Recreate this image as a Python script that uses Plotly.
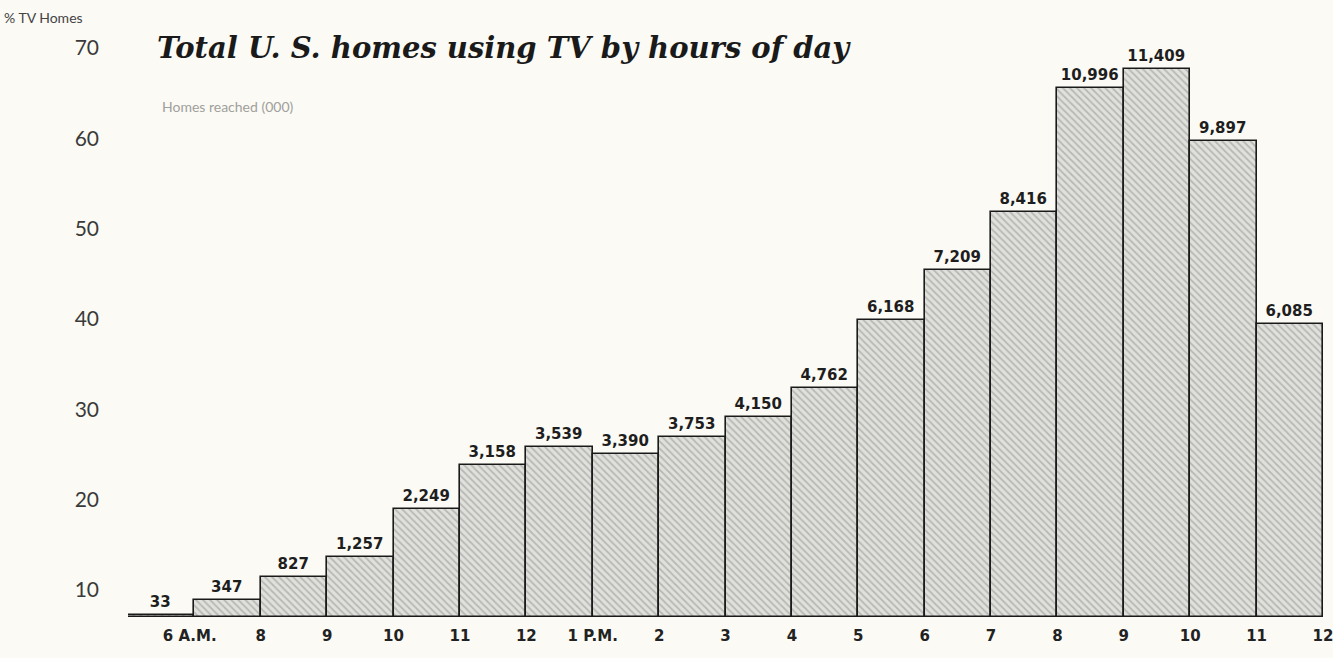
import plotly.graph_objects as go

# Hour slots from 6 A.M. to midnight, one bar per hour
hour_start = list(range(18))          # hours after 6 A.M.
homes_000 = [33, 347, 827, 1257, 2249, 3158, 3539, 3390, 3753, 4150,
             4762, 6168, 7209, 8416, 10996, 11409, 9897, 6085]
value_labels = [f"{v:,}" for v in homes_000]

# Hour labels under the bar boundaries
hour_tick_pos = [0.93, 2, 3, 4, 5, 6, 7, 8, 9, 10, 11, 12, 13, 14, 15, 16, 17, 18]
hour_tick_text = ["6 A.M.", "8", "9", "10", "11", "12", "1 P.M.", "2", "3", "4",
                  "5", "6", "7", "8", "9", "10", "11", "12"]

# Printed percentage scale on the left
pct_ticks = [10, 20, 30, 40, 50, 60, 70]

W, H = 1333, 658
L, R, T, B = 128, 10, 30, 41
plot_h = H - T - B

BOLD_SANS = "'DejaVu Sans', Lato, sans-serif"
LIGHT_SANS = "Lato, 'Open Sans', sans-serif"

fig = go.Figure()
fig.add_trace(go.Bar(
    x=[h + 0.5 for h in hour_start],
    y=homes_000,
    width=1,
    text=value_labels,
    textposition="outside",
    textfont=dict(family=BOLD_SANS, size=15, color="#1e1e1e", weight="bold"),
    constraintext="none",
    cliponaxis=False,
    marker=dict(
        color="#e0e0dc",
        line=dict(color="#1a1a1a", width=1.6),
        pattern=dict(shape="\\", fgcolor="#8f8f8c", size=5, solidity=0.35),
    ),
    hoverinfo="skip",
    showlegend=False,
))

# Left scale carrying the % TV Homes tick labels
fig.add_trace(go.Scatter(x=[None], y=[None], yaxis="y2", showlegend=False, hoverinfo="skip"))

fig.update_layout(
    width=W, height=H,
    margin=dict(l=L, r=R, t=T, b=B, autoexpand=False),
    paper_bgcolor="#fbfaf5",
    plot_bgcolor="rgba(0,0,0,0)",
    bargap=0,
    xaxis=dict(
        range=[0, 18],
        tickmode="array", tickvals=hour_tick_pos, ticktext=hour_tick_text,
        tickfont=dict(family=BOLD_SANS, size=15, color="#222222", weight="bold"),
        ticks="", showgrid=False, zeroline=False, showline=False,
        ticklabelstandoff=8, automargin=False, ticklabeloverflow="allow",
    ),
    yaxis=dict(
        range=[0, 12210],
        showticklabels=False, showgrid=False, zeroline=False, showline=False, ticks="",
    ),
    yaxis2=dict(
        overlaying="y", side="left", anchor="x",
        range=[7.01, 71.99],
        tickmode="array", tickvals=pct_ticks,
        tickfont=dict(family=LIGHT_SANS, size=21, color="#3a3a3a"),
        ticks="", showgrid=False, zeroline=False, showline=False,
        ticklabelstandoff=28, automargin=False,
    ),
    annotations=[
        dict(text="% TV Homes", xref="paper", yref="paper",
             x=(2 - L) / (W - L - R), y=(H - B - 18) / plot_h,
             xanchor="left", yanchor="middle", showarrow=False,
             font=dict(family=LIGHT_SANS, size=14, color="#444444")),
        dict(text="<b><i>Total U. S. homes using TV by hours of day</i></b>",
             xref="paper", yref="paper",
             x=(155 - L) / (W - L - R), y=(H - B - 48) / plot_h,
             xanchor="left", yanchor="middle", showarrow=False,
             font=dict(family="'DejaVu Serif', serif", size=29, color="#1a1a1a")),
        dict(text="Homes reached (000)", xref="paper", yref="paper",
             x=(160 - L) / (W - L - R), y=(H - B - 106) / plot_h,
             xanchor="left", yanchor="middle", showarrow=False,
             font=dict(family=LIGHT_SANS, size=14, color="#a0a09c")),
    ],
)

fig.write_html("out.html")
